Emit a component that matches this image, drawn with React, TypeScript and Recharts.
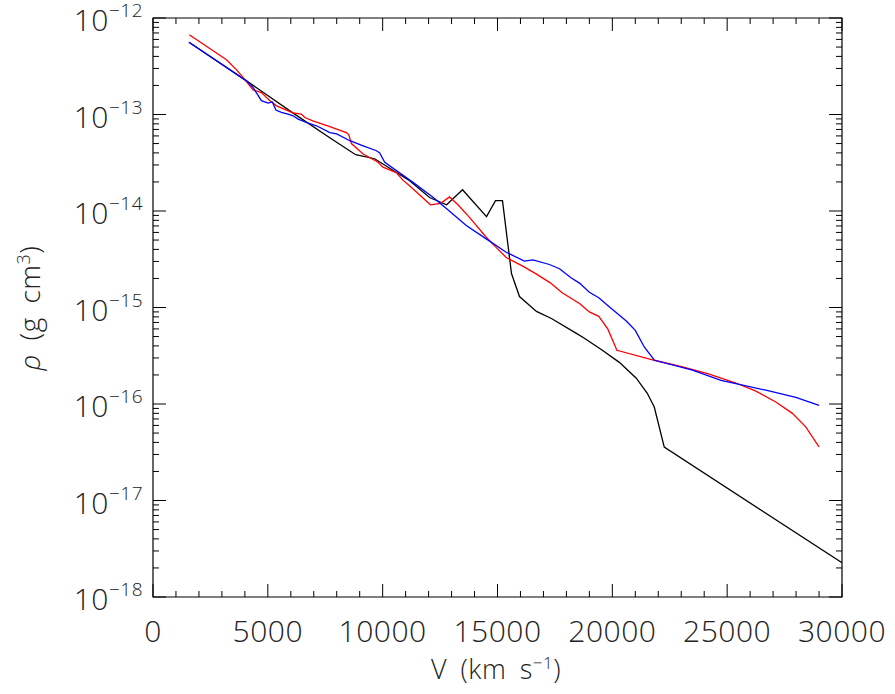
import { LineChart, Line, XAxis, YAxis, ReferenceArea } from 'recharts'

// velocity (km/s) vs density (g cm^-3)
const BLACK_V = [1565, 4074, 5217, 6087, 7696, 8826, 9652, 11174, 12043, 12783, 13478, 14522, 14913, 15217, 15609, 15957, 16696, 17348, 18435, 18783, 19565, 20304, 21043, 21522, 21826, 22261, 30000]
const BLACK_RHO = [5.6e-13, 2.23e-13, 1.45e-13, 1.04e-13, 5.74e-14, 3.83e-14, 3.48e-14, 2.06e-14, 1.38e-14, 1.16e-14, 1.66e-14, 8.75e-15, 1.28e-14, 1.28e-14, 2.25e-15, 1.3e-15, 9.1e-16, 7.7e-16, 5.4e-16, 4.8e-16, 3.6e-16, 2.7e-16, 1.85e-16, 1.29e-16, 9.3e-17, 3.57e-17, 2.26e-18]

const RED_V = [1580, 2600, 3200, 3640, 4000, 4360, 4720, 5090, 5380, 6090, 6460, 6610, 6960, 7700, 8420, 8520, 8640, 9150, 9800, 10010, 10590, 10870, 11170, 12080, 12530, 12910, 13280, 13780, 14510, 14940, 15380, 16100, 16680, 17300, 17800, 18570, 19000, 19410, 19800, 20200, 21830, 23060, 24150, 25380, 26250, 27120, 27840, 28420, 29000]
const RED_RHO = [6.7e-13, 4.6e-13, 3.7e-13, 2.9e-13, 2.3e-13, 1.8e-13, 1.69e-13, 1.39e-13, 1.23e-13, 1.04e-13, 1.01e-13, 9.3e-14, 8.6e-14, 7.5e-14, 6.5e-14, 6.2e-14, 5.0e-14, 3.9e-14, 3.2e-14, 2.85e-14, 2.5e-14, 2.1e-14, 1.83e-14, 1.16e-14, 1.2e-14, 1.4e-14, 1.16e-14, 8.6e-15, 5.35e-15, 4.2e-15, 3.3e-15, 2.68e-15, 2.23e-15, 1.8e-15, 1.43e-15, 1.1e-15, 9.0e-16, 8.1e-16, 6.0e-16, 3.6e-16, 2.84e-16, 2.42e-16, 2.07e-16, 1.65e-16, 1.36e-16, 1.05e-16, 8.0e-17, 5.8e-17, 3.6e-17]

const BLUE_V = [1570, 4070, 4360, 4720, 5010, 5200, 5350, 5590, 5880, 6100, 6320, 6680, 7120, 7700, 8000, 8570, 9150, 9730, 9870, 10090, 11320, 12190, 12800, 13640, 14510, 15380, 16170, 16540, 17260, 17700, 18200, 18570, 19000, 19410, 19800, 20230, 20620, 21000, 21390, 21830, 23490, 24730, 25380, 26680, 27990, 29000]
const BLUE_RHO = [5.6e-13, 2.23e-13, 1.9e-13, 1.39e-13, 1.31e-13, 1.35e-13, 1.11e-13, 1.05e-13, 1.01e-13, 9.7e-14, 8.95e-14, 8.26e-14, 7.64e-14, 6.5e-14, 6.3e-14, 5.35e-14, 4.74e-14, 4.21e-14, 4.0e-14, 3.19e-14, 1.98e-14, 1.39e-14, 1.05e-14, 7.06e-15, 5.14e-15, 3.74e-15, 3.02e-15, 3.12e-15, 2.79e-15, 2.52e-15, 2.03e-15, 1.79e-15, 1.44e-15, 1.26e-15, 1.05e-15, 8.6e-16, 7.2e-16, 5.8e-16, 3.9e-16, 2.84e-16, 2.24e-16, 1.76e-16, 1.63e-16, 1.39e-16, 1.17e-16, 9.7e-17]

const X_MAJOR = [0, 5000, 10000, 15000, 20000, 25000, 30000]
const Y_EXPONENTS = [-18, -17, -16, -15, -14, -13, -12]

const toRows = (v: number[], rho: number[]) => v.map((x, i) => ({ v: x, rho: rho[i] }))
const black = toRows(BLACK_V, BLACK_RHO)
const red = toRows(RED_V, RED_RHO)
const blue = toRows(BLUE_V, BLUE_RHO)

// minor ticks: every 1000 on x, 1..9 per decade on y
const xTicks: number[] = []
for (let i = 0; i < X_MAJOR.length - 1; i++) {
  for (let k = 0; k < 5; k++) xTicks.push(X_MAJOR[i] + k * 1000)
}
xTicks.push(X_MAJOR[X_MAJOR.length - 1])

const yTicks: number[] = []
for (let i = 0; i < Y_EXPONENTS.length - 1; i++) {
  for (let k = 1; k < 10; k++) yTicks.push(Number((k * Math.pow(10, Y_EXPONENTS[i])).toPrecision(3)))
}
yTicks.push(Math.pow(10, Y_EXPONENTS[Y_EXPONENTS.length - 1]))

const isMajorX = (v: number) => v % 5000 === 0
const isMajorY = (v: number) => Math.abs(Math.log10(v) - Math.round(Math.log10(v))) < 1e-6

const FONT = '"Open Sans", "DejaVu Sans", sans-serif'
const TXT = '#222'
const MAJOR = 13
const MINOR = 6

const BottomTick = (p: any) => {
  const { x, y, payload } = p
  const major = isMajorX(payload.value)
  return (
    <g>
      <path d={`M${x},${y}V${y - (major ? MAJOR : MINOR)}`} stroke="#000" fill="none" />
      {major && (
        <text x={x} y={y + 45} textAnchor="middle" fontSize={30} fontFamily={FONT} fontWeight={300} fill={TXT} letterSpacing={0.5}>
          {payload.value}
        </text>
      )}
    </g>
  )
}

const TopTick = (p: any) => {
  const { x, y, payload } = p
  const major = isMajorX(payload.value)
  return <path d={`M${x},${y}V${y + (major ? MAJOR : MINOR)}`} stroke="#000" fill="none" />
}

const LeftTick = (p: any) => {
  const { x, y, payload } = p
  const major = isMajorY(payload.value)
  const exp = Math.round(Math.log10(payload.value))
  return (
    <g>
      <path d={`M${x},${y}H${x + (major ? MAJOR : MINOR)}`} stroke="#000" fill="none" />
      {major && (
        <text x={x - 10} y={y + 13} textAnchor="end" fontSize={30} fontFamily={FONT} fontWeight={300} fill={TXT} letterSpacing={0.5}>
          <tspan>10</tspan>
          <tspan dy={-14} fontSize={19}>{'\u2212' + Math.abs(exp)}</tspan>
        </text>
      )}
    </g>
  )
}

const RightTick = (p: any) => {
  const { x, y, payload } = p
  const major = isMajorY(payload.value)
  return <path d={`M${x},${y}H${x - (major ? MAJOR : MINOR)}`} stroke="#000" fill="none" />
}

export default function App() {
  return (
    <div style={{ position: 'absolute', left: 0, top: 0, width: 895, height: 694, background: '#fff' }}>
      <LineChart width={895} height={694} margin={{ top: 17, right: 52, bottom: 0, left: 0 }}>
        <XAxis
          dataKey="v"
          type="number"
          domain={[0, 30000]}
          ticks={xTicks}
          interval={0}
          height={97}
          tickSize={0}
          tickMargin={0}
          tickLine={false}
          tick={BottomTick}
          axisLine={false}
          allowDataOverflow
        />
        <XAxis
          xAxisId="top"
          orientation="top"
          dataKey="v"
          type="number"
          domain={[0, 30000]}
          ticks={xTicks}
          interval={0}
          height={1}
          tickSize={0}
          tickMargin={0}
          tickLine={false}
          tick={TopTick}
          axisLine={false}
          allowDataOverflow
        />
        <YAxis
          type="number"
          scale="log"
          domain={[1e-18, 1e-12]}
          ticks={yTicks}
          interval={0}
          width={153}
          tickSize={0}
          tickMargin={0}
          tickLine={false}
          tick={LeftTick}
          axisLine={false}
          allowDataOverflow
        />
        <YAxis
          yAxisId="right"
          orientation="right"
          type="number"
          scale="log"
          domain={[1e-18, 1e-12]}
          ticks={yTicks}
          interval={0}
          width={1}
          tickSize={0}
          tickMargin={0}
          tickLine={false}
          tick={RightTick}
          axisLine={false}
          allowDataOverflow
        />
        <ReferenceArea x1={0} x2={30000} y1={1e-18} y2={1e-12} fill="none" stroke="#000" strokeWidth={1.2} ifOverflow="visible" />
        <Line data={black} dataKey="rho" stroke="#000000" strokeWidth={1.3} dot={false} isAnimationActive={false} />
        <Line data={red} dataKey="rho" stroke="#ff0000" strokeWidth={1.3} dot={false} isAnimationActive={false} />
        <Line data={blue} dataKey="rho" stroke="#0000ff" strokeWidth={1.3} dot={false} isAnimationActive={false} />
      </LineChart>
      <div style={{ position: 'absolute', left: 496, top: 650, transform: 'translateX(-50%)', fontSize: 27, fontFamily: FONT, fontWeight: 300, color: TXT, whiteSpace: 'nowrap', wordSpacing: 6, letterSpacing: 0.5 }}>
        V (km s<sup style={{ fontSize: 17 }}>{'\u22121'}</sup>)
      </div>
      <div style={{ position: 'absolute', left: 29, top: 308, transform: 'translate(-50%, -50%) rotate(-90deg)', fontSize: 28, fontFamily: FONT, fontWeight: 300, color: TXT, whiteSpace: 'nowrap', wordSpacing: 6, letterSpacing: 0.5 }}>
        <i>ρ</i> (g cm<sup style={{ fontSize: 18 }}>3</sup>)
      </div>
    </div>
  )
}
